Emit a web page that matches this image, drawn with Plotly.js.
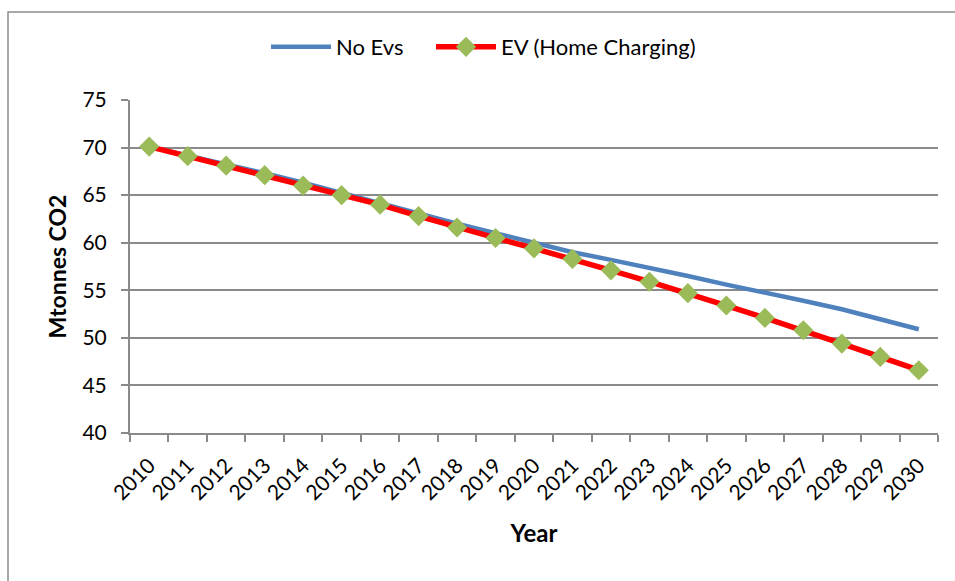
<!DOCTYPE html>
<html>
<head>
<meta charset="utf-8">
<script src="https://cdn.plot.ly/plotly-3.0.1.min.js"></script>
<style>
html,body{margin:0;padding:0;background:#fff;}
#chart{width:955px;height:581px;}
</style>
</head>
<body>
<div id="chart"></div>
<script>
var years = ["2010","2011","2012","2013","2014","2015","2016","2017","2018","2019","2020",
             "2021","2022","2023","2024","2025","2026","2027","2028","2029","2030"];
var noEvs = [70.1,69.2,68.2,67.3,66.3,65.2,64.2,63.1,62.0,61.0,60.0,
             59.0,58.2,57.4,56.5,55.6,54.8,53.9,53.0,52.0,50.9];
var evHome = [70.1,69.1,68.1,67.1,66.0,65.0,64.0,62.8,61.6,60.5,59.4,
              58.3,57.1,55.9,54.7,53.4,52.1,50.8,49.4,48.0,46.6];
var yTicks = [40,45,50,55,60,65,70,75];

var font = "Lato, 'Open Sans', 'Liberation Sans', sans-serif";
var axisGray = "#8a8a8a";

var traces = [
  {x: years, y: noEvs, name: "No Evs", type: "scatter", mode: "lines", legend: "legend",
   line: {color: "#4F81BD", width: 4.5}},
  {x: years, y: evHome, name: "EV (Home Charging)", type: "scatter", mode: "lines+markers",
   legend: "legend2",
   line: {color: "#FF0000", width: 5.5},
   marker: {symbol: "diamond", size: 15.5, color: "#9BBB59", line: {width: 0}}}
];

var legendFont = {family: font, size: 22, color: "#000"};

var layout = {
  width: 955, height: 581,
  margin: {l: 130, r: 17, t: 100, b: 148},
  paper_bgcolor: "#fff", plot_bgcolor: "#fff",
  font: {family: font, size: 21, color: "#000"},
  showlegend: true,
  legend: {orientation: "h", x: (266 - 130) / 808, xanchor: "left", y: 1.159, yanchor: "middle",
           font: legendFont, itemwidth: 60, bgcolor: "rgba(0,0,0,0)"},
  legend2: {orientation: "h", x: (431 - 130) / 808, xanchor: "left", y: 1.159, yanchor: "middle",
           font: legendFont, itemwidth: 60, bgcolor: "rgba(0,0,0,0)"},
  xaxis: {
    type: "category", range: [-0.5, 20.5], tickson: "boundaries",
    ticks: "outside", ticklen: 7, tickcolor: axisGray, tickwidth: 2,
    showline: true, linecolor: axisGray, linewidth: 2,
    showgrid: false, tickangle: -45, ticklabelstandoff: 10,
    tickfont: {family: font, size: 21, color: "#000"},
    title: {text: "<b>Year</b>", font: {family: font, size: 24, color: "#000"}, standoff: 22}
  },
  yaxis: {
    range: [40, 75], tickvals: yTicks, ticktext: yTicks.map(String),
    ticks: "outside", ticklen: 7, tickcolor: axisGray, tickwidth: 2,
    showline: true, linecolor: axisGray, linewidth: 2,
    showgrid: true, gridcolor: axisGray, gridwidth: 2, zeroline: false,
    tickfont: {family: font, size: 21, color: "#000"}, ticklabelstandoff: 10,
    title: {text: "<b>Mtonnes CO2</b>", font: {family: font, size: 23, color: "#000"}, standoff: 9}
  },
  shapes: [
    {type: "rect", xref: "paper", yref: "paper",
     x0: (8 - 130) / 808, x1: (990 - 130) / 808,
     y0: (433 - 620) / 333, y1: (433 - 12) / 333,
     line: {color: "#8c8c8c", width: 1.5}, fillcolor: "rgba(0,0,0,0)", layer: "below"}
  ]
};

Plotly.newPlot("chart", traces, layout, {displayModeBar: false, staticPlot: true});
</script>
</body>
</html>
